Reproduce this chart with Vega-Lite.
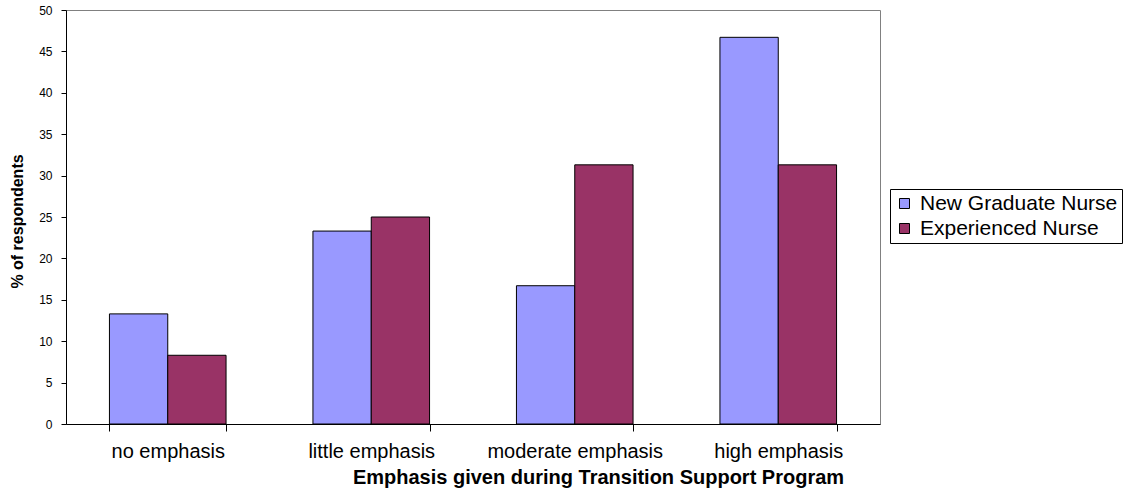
{
  "$schema": "https://vega.github.io/schema/vega-lite/v6.json",
  "width": 814,
  "height": 414,
  "autosize": {"type": "none"},
  "padding": {"left": 66, "top": 10, "right": 244, "bottom": 66},
  "background": "white",
  "config": {
    "font": "Liberation Sans",
    "view": {"stroke": "#808080", "strokeWidth": 1},
    "axis": {"grid": false, "domainColor": "black", "tickColor": "black", "labelColor": "black", "titleColor": "black", "labelFont": "Liberation Sans", "titleFont": "Liberation Sans"}
  },
  "data": {
    "values": [
      {"emphasis": "no emphasis", "group": "New Graduate Nurse", "pct": 13.3},
      {"emphasis": "no emphasis", "group": "Experienced Nurse", "pct": 8.3},
      {"emphasis": "little emphasis", "group": "New Graduate Nurse", "pct": 23.3},
      {"emphasis": "little emphasis", "group": "Experienced Nurse", "pct": 25.0},
      {"emphasis": "moderate emphasis", "group": "New Graduate Nurse", "pct": 16.7},
      {"emphasis": "moderate emphasis", "group": "Experienced Nurse", "pct": 31.3},
      {"emphasis": "high emphasis", "group": "New Graduate Nurse", "pct": 46.7},
      {"emphasis": "high emphasis", "group": "Experienced Nurse", "pct": 31.3}
    ]
  },
  "mark": {"type": "bar", "stroke": "black", "strokeWidth": 1},
  "encoding": {
    "x": {
      "field": "emphasis",
      "type": "nominal",
      "sort": ["no emphasis", "little emphasis", "moderate emphasis", "high emphasis"],
      "scale": {"paddingInner": 0.427, "paddingOuter": 0.2135},
      "axis": {
        "title": "Emphasis given during Transition Support Program",
        "labelAngle": 0,
        "labelFontSize": 20,
        "labelBaseline": "middle",
        "labelPadding": 20,
        "tickBand": "extent",
        "tickSize": 7,
        "titleFontSize": 20,
        "titleFontWeight": "bold",
        "titleX": 532,
        "titleY": 53,
        "titleBaseline": "middle",
        "titleAlign": "center"
      }
    },
    "xOffset": {
      "field": "group",
      "type": "nominal",
      "sort": ["New Graduate Nurse", "Experienced Nurse"]
    },
    "y": {
      "field": "pct",
      "type": "quantitative",
      "scale": {"domain": [0, 50], "nice": false},
      "axis": {
        "title": "% of respondents",
        "values": [0, 5, 10, 15, 20, 25, 30, 35, 40, 45, 50],
        "labelFontSize": 12,
        "labelPadding": 9,
        "tickSize": 5,
        "titleFontSize": 16,
        "titleFontWeight": "bold",
        "titleAngle": 270,
        "titleX": -49,
        "titleY": 211,
        "titleBaseline": "middle",
        "titleAlign": "center"
      }
    },
    "color": {
      "field": "group",
      "type": "nominal",
      "sort": ["New Graduate Nurse", "Experienced Nurse"],
      "scale": {"domain": ["New Graduate Nurse", "Experienced Nurse"], "range": ["#9999FF", "#993366"]},
      "legend": {
        "title": null,
        "orient": "none",
        "legendX": 824,
        "legendY": 179,
        "strokeColor": "black",
        "fillColor": "white",
        "padding": 4,
        "labelFontSize": 21,
        "labelColor": "black",
        "labelOffset": 5,
        "labelLimit": 400,
        "symbolType": "square",
        "symbolSize": 100,
        "symbolStrokeColor": "black",
        "symbolStrokeWidth": 1,
        "symbolOpacity": 1,
        "rowPadding": 3
      }
    }
  }
}
